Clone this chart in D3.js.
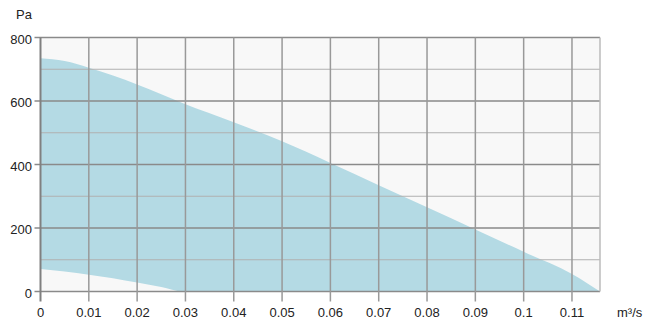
<!DOCTYPE html>
<html lang="en">
  <head>
    <meta charset="UTF-8" />
    <title>Fan curve</title>
    <script src="https://d3js.org/d3.v7.min.js"></script>
    <style>
      body {
        margin: 0;
        background: #fff;
      }
      text {
        font-family: "Liberation Sans", Arial, sans-serif;
        font-size: 13px;
        fill: #222;
      }
    </style>
  </head>
  <body>
    <svg id="chart" width="659" height="325"></svg>
    <script>
      // airflow in m3/s
      const flow = [0, 0.005, 0.01, 0.015, 0.02, 0.025, 0.0295, 0.04, 0.05, 0.06, 0.07, 0.08, 0.09, 0.1, 0.11, 0.1158];
      // pressure envelope in Pa
      const upper = [735, 726, 705, 680, 652, 621, 593, 533, 473, 405, 335, 265, 195, 125, 55, 0];
      const lower = [71, 63, 53, 42, 28, 14, 0, 0, 0, 0, 0, 0, 0, 0, 0, 0];
      const xTicks = [0, 0.01, 0.02, 0.03, 0.04, 0.05, 0.06, 0.07, 0.08, 0.09, 0.1, 0.11];
      const yTicks = [0, 200, 400, 600, 800];
      const yMinor = [100, 300, 500, 700];

      const svg = d3.select("#chart");
      const x = d3.scaleLinear().domain([0, 0.1158]).range([40.5, 600]);
      const y = d3.scaleLinear().domain([0, 800]).range([291.5, 37.5]);

      const points = flow.map((f, i) => ({ f: f, hi: upper[i], lo: lower[i] }));

      // plot background
      svg
        .append("rect")
        .attr("x", x(0))
        .attr("y", y(800))
        .attr("width", x(0.1158) - x(0))
        .attr("height", y(0) - y(800))
        .attr("fill", "#f8f8f8");

      const area = d3
        .area()
        .x((d) => x(d.f))
        .y0((d) => y(d.lo))
        .y1((d) => y(d.hi))
        .curve(d3.curveMonotoneX);

      svg.append("path").datum(points).attr("d", area).attr("fill", "#b4dae4");

      // minor horizontal grid
      svg
        .selectAll(".minor")
        .data(yMinor)
        .enter()
        .append("line")
        .attr("x1", x(0))
        .attr("x2", 600)
        .attr("y1", (d) => y(d))
        .attr("y2", (d) => y(d))
        .attr("stroke", "#b0b0b0")
        .attr("stroke-width", 1.2);

      // major horizontal grid + left ticks
      svg
        .selectAll(".major")
        .data(yTicks)
        .enter()
        .append("line")
        .attr("x1", x(0) - 6)
        .attr("x2", 600)
        .attr("y1", (d) => y(d))
        .attr("y2", (d) => y(d))
        .attr("stroke", "#8a8a8a")
        .attr("stroke-width", 1.6);

      // vertical grid + bottom ticks
      svg
        .selectAll(".vgrid")
        .data(xTicks)
        .enter()
        .append("line")
        .attr("x1", (d) => x(d))
        .attr("x2", (d) => x(d))
        .attr("y1", y(800))
        .attr("y2", y(0) + 10)
        .attr("stroke", (d) => (d === 0 ? "#808080" : "#999"))
        .attr("stroke-width", (d) => (d === 0 ? 2 : 1.5));

      // right border
      svg
        .append("line")
        .attr("x1", 600)
        .attr("x2", 600)
        .attr("y1", y(800))
        .attr("y2", y(0))
        .attr("stroke", "#bbb")
        .attr("stroke-width", 1.5);

      // tick labels
      svg
        .selectAll(".xl")
        .data(xTicks)
        .enter()
        .append("text")
        .attr("x", (d) => x(d))
        .attr("y", 317)
        .attr("text-anchor", "middle")
        .text((d) => d3.format("")(d));

      svg
        .selectAll(".yl")
        .data(yTicks)
        .enter()
        .append("text")
        .attr("x", 32)
        .attr("y", (d) => y(d) + 6)
        .attr("text-anchor", "end")
        .text((d) => d);

      svg.append("text").attr("x", 16).attr("y", 18.5).text("Pa");
      svg.append("text").attr("x", 617).attr("y", 317).text("m³/s");
    </script>
  </body>
</html>
